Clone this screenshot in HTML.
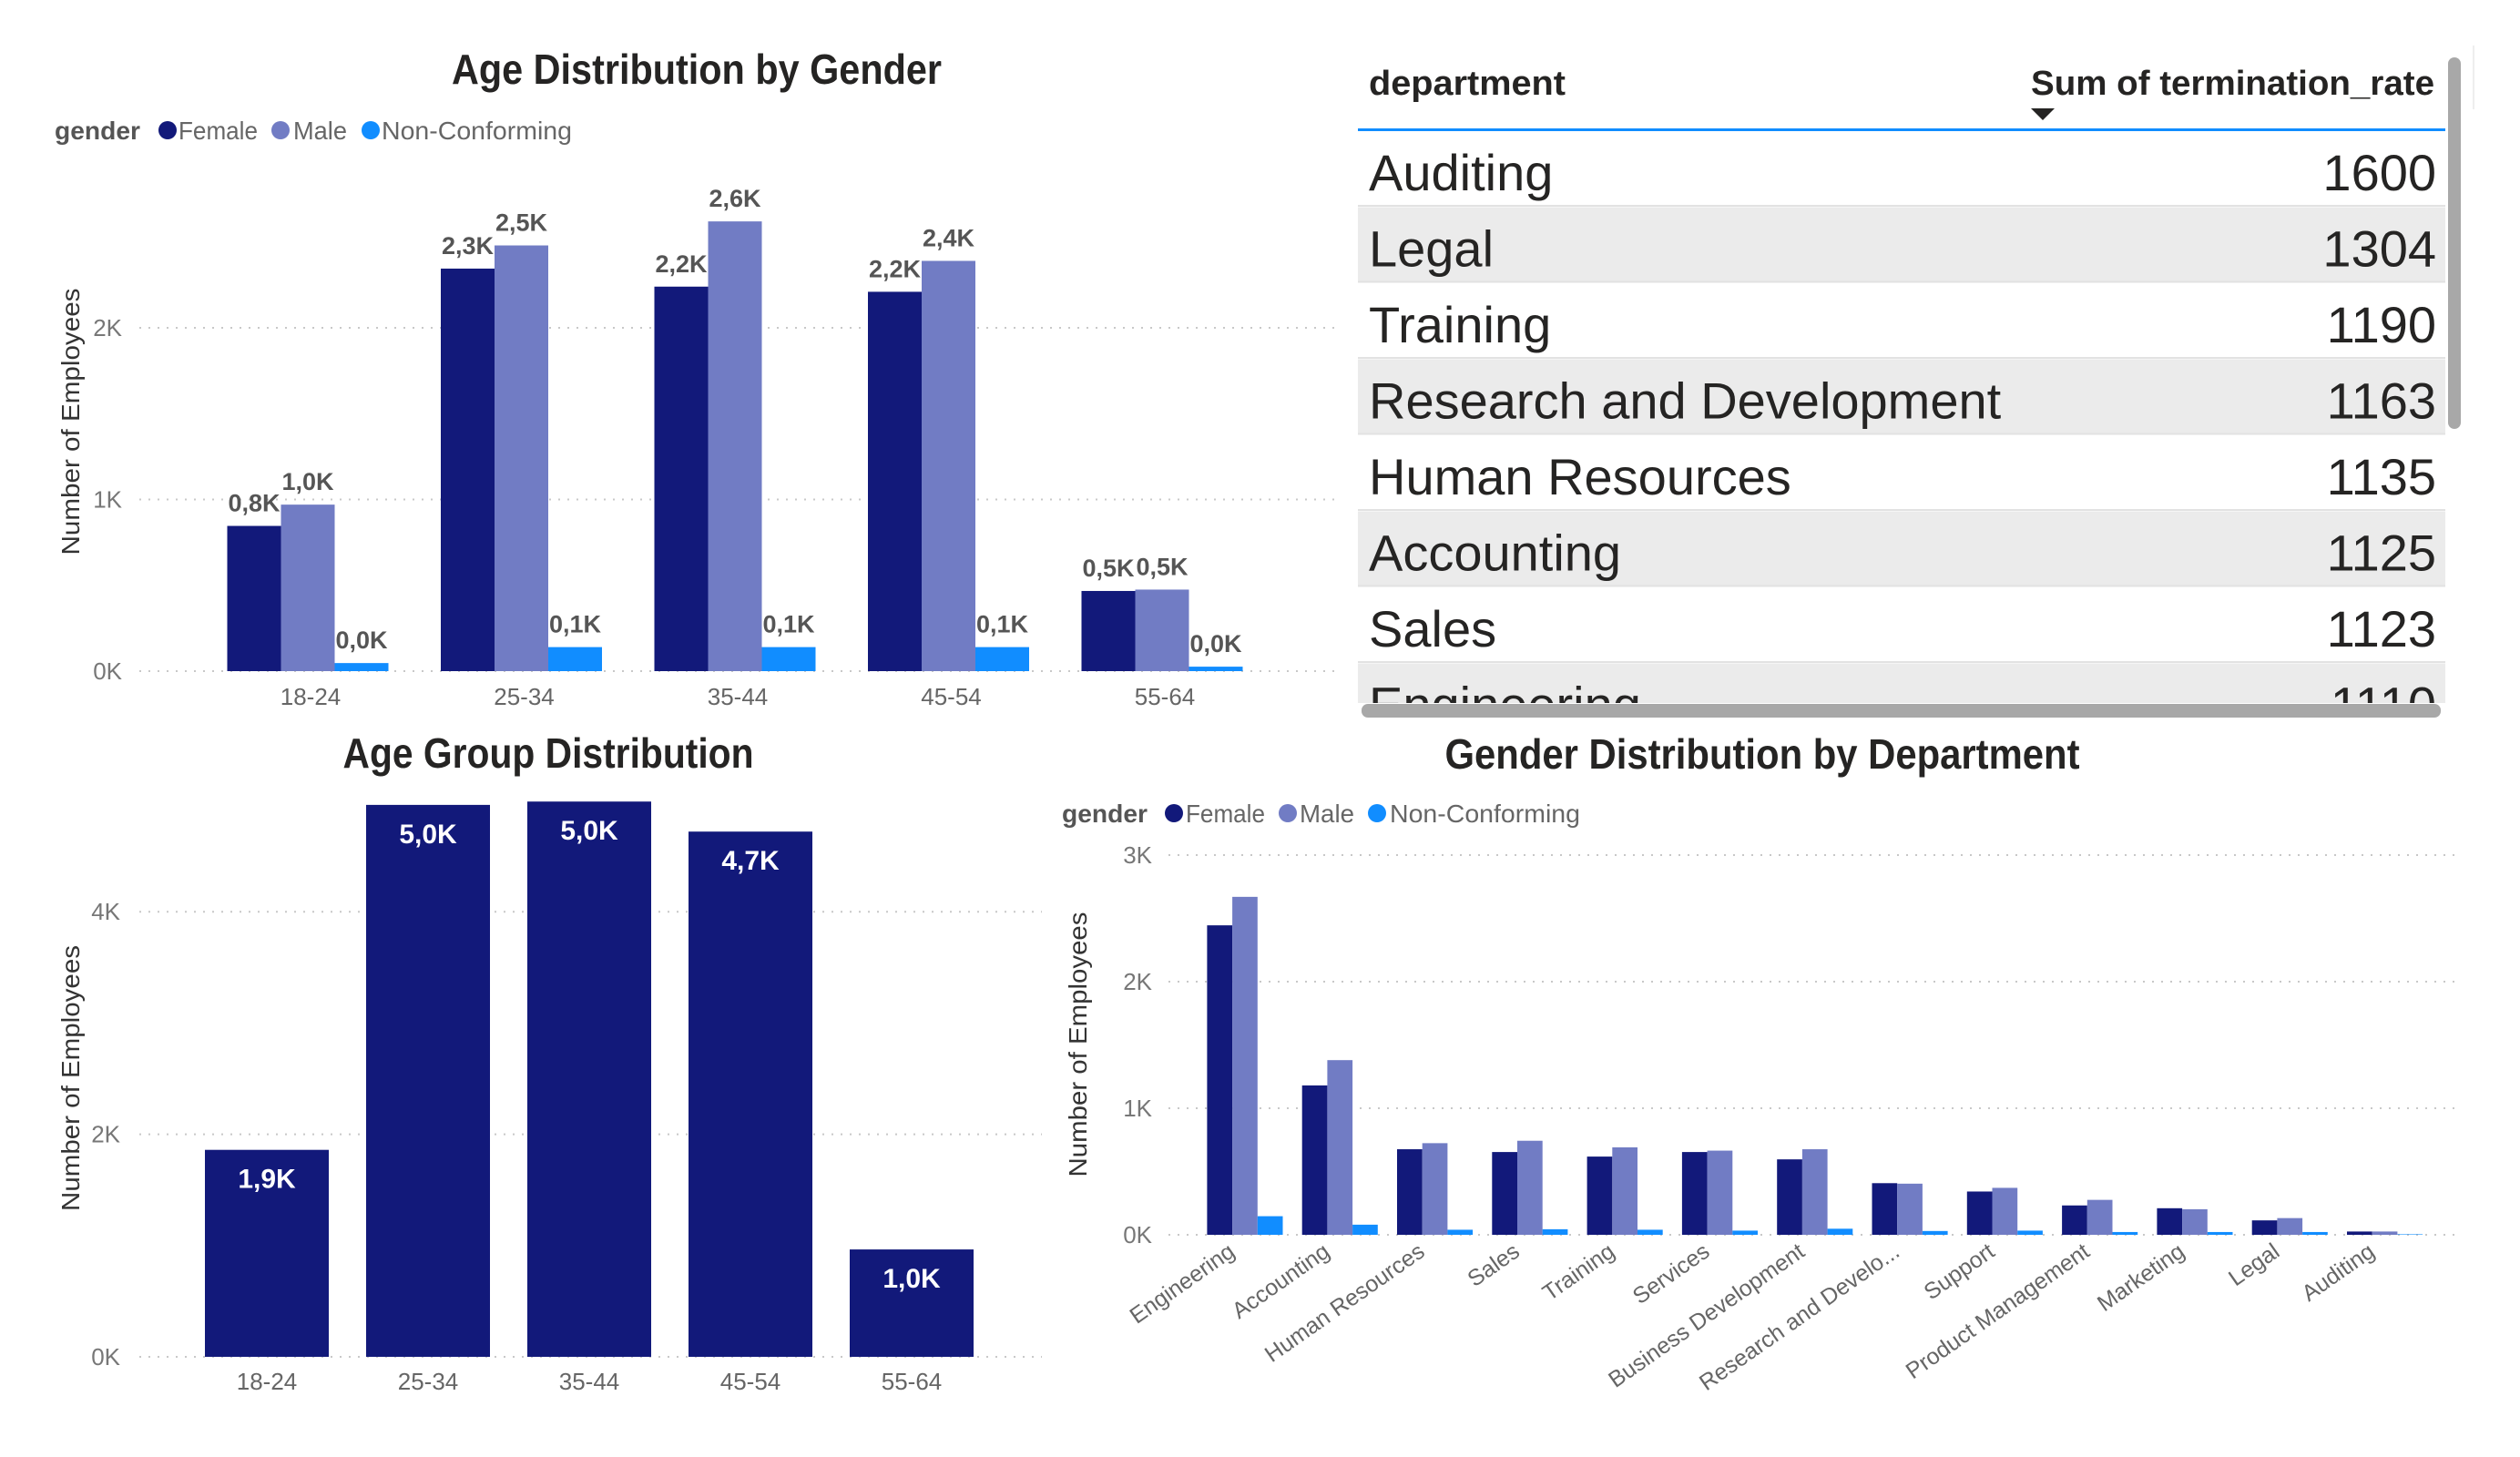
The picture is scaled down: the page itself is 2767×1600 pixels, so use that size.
<!DOCTYPE html>
<html><head><meta charset="utf-8">
<style>
html,body{margin:0;padding:0;background:#fff;}
svg{display:block;font-family:"Liberation Sans",sans-serif;}
</style></head>
<body>
<svg id="root" width="2767" height="1600" viewBox="0 0 2767 1600" xmlns="http://www.w3.org/2000/svg">
<rect x="0" y="0" width="2767" height="1600" fill="#fff"/>

<!-- Chart 1 static -->
<g>
<text x="765" y="92" text-anchor="middle" font-size="46" font-weight="bold" fill="#252423" textLength="538" lengthAdjust="spacingAndGlyphs">Age Distribution by Gender</text>
<g>
<text x="60" y="153" font-size="28" font-weight="bold" fill="#555" textLength="94" lengthAdjust="spacingAndGlyphs">gender</text>
<g><circle cx="184" cy="143" r="10" fill="#12197a"/><text x="196" y="153" font-size="28" fill="#666" textLength="87" lengthAdjust="spacingAndGlyphs">Female</text></g>
<g><circle cx="308" cy="143" r="10" fill="#717cc4"/><text x="322" y="153" font-size="28" fill="#666" textLength="59" lengthAdjust="spacingAndGlyphs">Male</text></g>
<g><circle cx="407" cy="143" r="10" fill="#118dff"/><text x="419" y="153" font-size="28" fill="#666" textLength="209" lengthAdjust="spacingAndGlyphs">Non-Conforming</text></g>
</g>
<text transform="translate(87,463) rotate(-90)" text-anchor="middle" font-size="28" fill="#333" textLength="293" lengthAdjust="spacingAndGlyphs">Number of Employees</text>
<g id="c1"></g>
</g>

<!-- Chart 2 static -->
<g>
<text x="602" y="843" text-anchor="middle" font-size="46" font-weight="bold" fill="#252423" textLength="451" lengthAdjust="spacingAndGlyphs">Age Group Distribution</text>
<text transform="translate(87,1184) rotate(-90)" text-anchor="middle" font-size="28" fill="#333" textLength="292" lengthAdjust="spacingAndGlyphs">Number of Employees</text>
<g id="c2"></g>
</g>

<!-- Chart 3 static -->
<g>
<text x="1935" y="844" text-anchor="middle" font-size="46" font-weight="bold" fill="#252423" textLength="697" lengthAdjust="spacingAndGlyphs">Gender Distribution by Department</text>
<g>
<text x="1166" y="903" font-size="28" font-weight="bold" fill="#555" textLength="94" lengthAdjust="spacingAndGlyphs">gender</text>
<g><circle cx="1289" cy="893" r="10" fill="#12197a"/><text x="1302" y="903" font-size="28" fill="#666" textLength="87" lengthAdjust="spacingAndGlyphs">Female</text></g>
<g><circle cx="1414" cy="893" r="10" fill="#717cc4"/><text x="1427" y="903" font-size="28" fill="#666" textLength="60" lengthAdjust="spacingAndGlyphs">Male</text></g>
<g><circle cx="1512" cy="893" r="10" fill="#118dff"/><text x="1526" y="903" font-size="28" fill="#666" textLength="209" lengthAdjust="spacingAndGlyphs">Non-Conforming</text></g>
</g>
<text transform="translate(1193,1147) rotate(-90)" text-anchor="middle" font-size="28" fill="#333" textLength="291" lengthAdjust="spacingAndGlyphs">Number of Employees</text>
<g id="c3"></g>
</g>

<!-- Table -->
<g>
<defs><clipPath id="tclip"><rect x="1488" y="143" width="1200" height="629"/></clipPath></defs>
<text x="1503" y="104" font-size="38" font-weight="bold" fill="#252423" textLength="216" lengthAdjust="spacingAndGlyphs">department</text>
<text x="2673" y="104" text-anchor="end" font-size="38" font-weight="bold" fill="#252423" textLength="443" lengthAdjust="spacingAndGlyphs">Sum of termination_rate</text>
<path d="M2230,119 L2256,119 L2243,132 Z" fill="#252423"/>
<rect x="1491" y="141" width="1194" height="3" fill="#118dff"/>
<g id="tbody" clip-path="url(#tclip)"></g>
<rect x="2688" y="63" width="14" height="408" rx="7" fill="#a8a8a8"/>
<rect x="1495" y="773" width="1185" height="15" rx="7" fill="#a8a8a8"/>
<rect x="2715" y="50" width="2" height="70" fill="#eee"/>
</g>
</svg>

<script>
// ===== Chart 1 data =====
const ageGroups = ["18-24","25-34","35-44","45-54","55-64"];
const c1Female = [846, 2345, 2240, 2210, 467];
const c1Male = [970, 2480, 2620, 2390, 475];
const c1NonConforming = [47, 140, 140, 140, 26];
const c1Ticks = [0, 1000, 2000];
const c1TickLabels = ["0K","1K","2K"];

// ===== Chart 2 data =====
const c2Totals = [1860, 4960, 4990, 4720, 965];
const c2Ticks = [0, 2000, 4000];
const c2TickLabels = ["0K","2K","4K"];

// ===== Chart 3 data =====
const departments = ["Engineering","Accounting","Human Resources","Sales","Training","Services","Business Development","Research and Develo...","Support","Product Management","Marketing","Legal","Auditing"];
const c3Female = [2445, 1180, 676, 654, 618, 654, 596, 408, 342, 232, 210, 114, 26];
const c3Male = [2670, 1380, 724, 743, 691, 665, 676, 404, 371, 276, 202, 132, 26];
const c3NonConforming = [147, 80, 40, 44, 40, 33, 48, 30, 33, 22, 22, 22, 4];
const c3Ticks = [0, 1000, 2000, 3000];
const c3TickLabels = ["0K","1K","2K","3K"];

// ===== Table data =====
const tableDepartments = ["Auditing","Legal","Training","Research and Development","Human Resources","Accounting","Sales","Engineering"];
const tableRates = [1600, 1304, 1190, 1163, 1135, 1125, 1123, 1110];

const NS = "http://www.w3.org/2000/svg";
const COLORS = ["#12197a","#717cc4","#118dff"];
function mk(tag, attrs, parent){ const e=document.createElementNS(NS,tag); for(const k in attrs) e.setAttribute(k,attrs[k]); parent.appendChild(e); return e; }
function fmtK(v){ return (v/1000).toFixed(1).replace('.',',')+'K'; }

function grid(g, ticks, labels, yFn, x0, x1, labelRight){
  ticks.forEach((t,i)=>{
    const ln = mk('line',{x1:x0,x2:x1,y1:yFn(t),y2:yFn(t),stroke:'#c8c8c8','stroke-width':2,'stroke-dasharray':'2,8'},g);
    
    
    const tx = mk('text',{x:labelRight,y:yFn(t)+9,'text-anchor':'end','font-size':26,fill:'#777'},g);
    tx.textContent = labels[i];
    
    
  });
}

// Chart 1
(function(){
  const g = document.getElementById('c1');
  const y = v => 737 - v*0.1885;
  const cx = i => 338 + i*234.5;
  grid(g, c1Ticks, c1TickLabels, y, 153, 1469, 134);
  const series = [c1Female, c1Male, c1NonConforming];
  ageGroups.forEach((a,i)=>{
    series.forEach((s,j)=>{
      const x = cx(i) - 88.5 + j*59;
      const r = mk('rect',{x:x,y:y(s[i]),width:59,height:y(0)-y(s[i]),fill:COLORS[j]},g);
      
      
      const t = mk('text',{x:x+29.5,y:y(s[i])-16,'text-anchor':'middle','font-size':27,'font-weight':'bold',fill:'#555'},g);
      t.textContent = fmtK(s[i]);
      
      
    });
    const xl = mk('text',{x:cx(i)+3,y:774,'text-anchor':'middle','font-size':26,fill:'#666'},g);
    xl.textContent = a;
    
    
  });
})();

// Chart 2
(function(){
  const g = document.getElementById('c2');
  const y = v => 1490 - v*0.1222;
  const cx = i => 293 + i*177;
  grid(g, c2Ticks, c2TickLabels, y, 153, 1144, 132);
  ageGroups.forEach((a,i)=>{
    const v = c2Totals[i];
    const r = mk('rect',{x:cx(i)-68,y:y(v),width:136,height:y(0)-y(v),fill:'#12197a'},g);
    
    
    const t = mk('text',{x:cx(i),y:y(v)+42,'text-anchor':'middle','font-size':30,'font-weight':'bold',fill:'#fff'},g);
    t.textContent = fmtK(v);
    
    
    const xl = mk('text',{x:cx(i),y:1526,'text-anchor':'middle','font-size':26,fill:'#666'},g);
    xl.textContent = a;
    
    
  });
})();

// Chart 3
(function(){
  const g = document.getElementById('c3');
  const y = v => 1356 - v*0.139;
  const gx = i => 1325.4 + i*104.3;
  grid(g, c3Ticks, c3TickLabels, y, 1283, 2700, 1265);
  const series = [c3Female, c3Male, c3NonConforming];
  departments.forEach((d,i)=>{
    series.forEach((s,j)=>{
      const x = gx(i) + j*27.7;
      const r = mk('rect',{x:x,y:y(s[i]),width:27.7,height:y(0)-y(s[i]),fill:COLORS[j]},g);
      
      
    });
    const ex = gx(i) + 32, ey = 1378;
    const xl = mk('text',{x:ex,y:ey,'text-anchor':'end','font-size':25,fill:'#666',transform:'rotate(-35 '+ex+' '+ey+')'},g);
    xl.textContent = d;
    
    
  });
})();

// Table
(function(){
  const g = document.getElementById('tbody');
  const top = 143, h = 83.5;
  tableDepartments.forEach((d,i)=>{
    const ry = top + i*h;
    const row = mk('g',{},g);
    
    
    if(i%2===1){ mk('rect',{x:1491,y:ry+1,width:1194,height:h-2,fill:'#ebebeb'},row); }
    mk('rect',{x:1491,y:ry+h-1.5,width:1194,height:2,fill:'#e2e2e2'},row);
    const t1 = mk('text',{x:1503,y:ry+66,'font-size':56,fill:'#252423'},row);
    t1.textContent = d;
    const t2 = mk('text',{x:2675,y:ry+66,'text-anchor':'end','font-size':56,fill:'#252423'},row);
    t2.textContent = tableRates[i];
  });
})();
</script>
</body></html>
